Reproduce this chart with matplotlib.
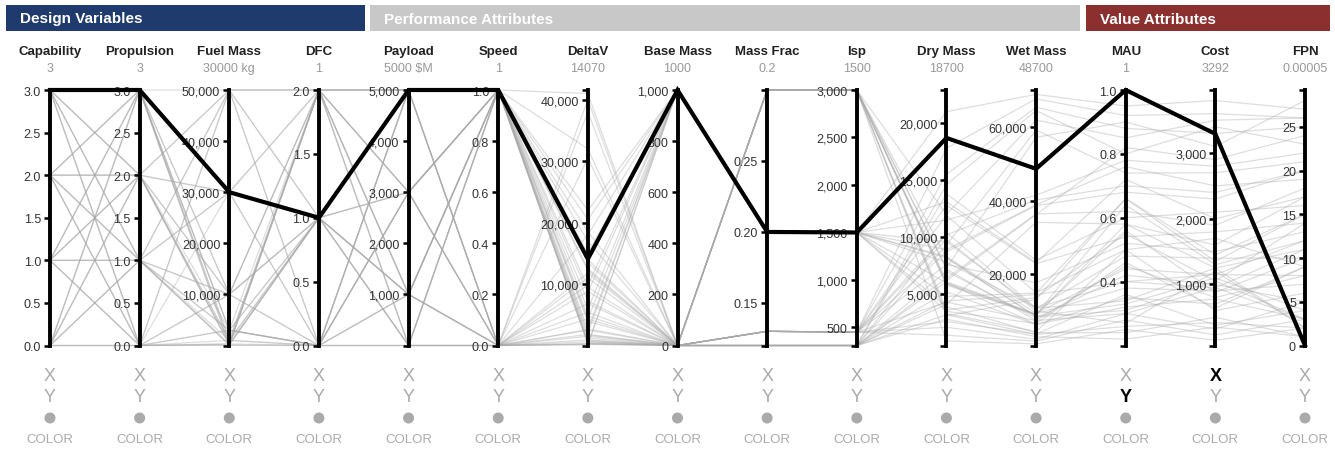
import matplotlib.pyplot as plt
import matplotlib.patches as mpatches
import numpy as np

plt.rcParams["font.family"] = ["Liberation Sans", "DejaVu Sans"]

# ---- axes / columns ----
dims = ["Capability", "Propulsion", "Fuel Mass", "DFC", "Payload", "Speed",
        "DeltaV", "Base Mass", "Mass Frac", "Isp", "Dry Mass", "Wet Mass",
        "MAU", "Cost", "FPN"]
selected_labels = ["3", "3", "30000 kg", "1", r"5000 \$M", "1", "14070", "1000",
                   "0.2", "1500", "18700", "48700", "1", "3292", "0.00005"]
selected = [3, 3, 30000, 1, 5000, 1, 14070, 1000, 0.2, 1500, 18700, 48700,
            1.0, 3292, 0.00005]

domains = [(0, 3), (0, 3), (0, 50000), (0, 2), (0, 5000), (0, 1), (0, 41570),
           (0, 1000), (0.12, 0.30), (310, 3000), (500, 22900), (500, 70200),
           (0.2, 1.0), (70, 3960), (0, 29.2)]
ticks = [
    [0, 0.5, 1, 1.5, 2, 2.5, 3],
    [0, 0.5, 1, 1.5, 2, 2.5, 3],
    [10000, 20000, 30000, 40000, 50000],
    [0, 0.5, 1, 1.5, 2],
    [1000, 2000, 3000, 4000, 5000],
    [0, 0.2, 0.4, 0.6, 0.8, 1.0],
    [10000, 20000, 30000, 40000],
    [0, 200, 400, 600, 800, 1000],
    [0.15, 0.20, 0.25],
    [500, 1000, 1500, 2000, 2500, 3000],
    [5000, 10000, 15000, 20000],
    [20000, 40000, 60000],
    [0.4, 0.6, 0.8, 1.0],
    [1000, 2000, 3000],
    [0, 5, 10, 15, 20, 25],
]
fmts = ["{:.1f}", "{:.1f}", "{:,.0f}", "{:.1f}", "{:,.0f}", "{:.1f}", "{:,.0f}",
        "{:,.0f}", "{:.2f}", "{:,.0f}", "{:,.0f}", "{:,.0f}", "{:.1f}",
        "{:,.0f}", "{:.0f}"]

# ---- tradespace designs (approximate) ----
capability = [0, 0, 0, 0, 1, 1, 1, 1, 2, 2, 2, 2, 3, 3, 3, 3,
              0, 0, 0, 0, 1, 1, 1, 1, 2, 2, 2, 2, 3, 3, 3, 3,
              0, 0, 0, 0, 1, 1, 1, 1, 2, 2, 2, 2, 3, 3, 3, 3]
propulsion = [0, 1, 2, 3, 0, 1, 2, 3, 0, 1, 2, 3, 0, 1, 2, 3,
              0, 1, 2, 3, 0, 1, 2, 3, 0, 1, 2, 3, 0, 1, 2, 3,
              0, 1, 2, 3, 0, 1, 2, 3, 0, 1, 2, 3, 0, 1, 2, 3]
fuel_mass = [30, 100, 1000, 3000, 10000, 300, 30000, 1000, 50000, 3000, 100, 30000, 1000, 30000, 3000, 50000,
             3000, 50000, 300, 10000, 300, 10000, 50000, 100, 100, 1000, 10000, 3000, 30000, 100, 1000, 3000,
             50000, 10000, 30000, 1000, 3000, 50000, 10000, 30000, 300, 30000, 50000, 10000, 10000, 3000, 300, 100]
dfc = [0, 1, 2, 0, 1, 2, 0, 1, 2, 0, 1, 2, 0, 1, 2, 0,
       1, 2, 0, 1, 2, 0, 1, 2, 0, 1, 2, 0, 1, 2, 0, 1,
       2, 0, 1, 2, 0, 1, 2, 0, 1, 2, 0, 1, 2, 0, 1, 2]
payload = [0, 1000, 3000, 5000, 1000, 0, 3000, 5000, 5000, 1000, 0, 3000, 0, 3000, 1000, 5000,
           3000, 5000, 1000, 0, 5000, 3000, 1000, 1000, 5000, 0, 5000, 0, 1000, 5000, 3000, 1000,
           1000, 5000, 0, 3000, 3000, 5000, 0, 1000, 3000, 1000, 3000, 5000, 0, 5000, 5000, 3000]
speed = [0, 1, 1, 0, 1, 0, 1, 1, 0, 1, 0, 0, 1, 1, 0, 1,
         1, 1, 1, 1, 0, 0, 0, 0, 1, 1, 1, 1, 0, 0, 1, 1,
         1, 0, 0, 0, 1, 1, 1, 1, 0, 0, 1, 0, 0, 1, 1, 0]
delta_v = [2500, 1200, 800, 4300, 32000, 1800, 9500, 2100, 40000, 3900, 300, 18000, 14000, 7200, 1500, 22000,
           18500, 12500, 350, 15000, 600, 6800, 11800, 100, 400, 1700, 4800, 8600, 38000, 200, 650, 5900,
           41000, 5400, 8800, 2600, 17000, 13500, 4300, 20500, 900, 11000, 12200, 9800, 30500, 2700, 200, 250]
base_mass = [0, 0, 0, 1000, 0, 0, 0, 1000, 0, 0, 0, 1000, 0, 0, 0, 1000,
             0, 0, 0, 1000, 0, 0, 0, 1000, 0, 0, 0, 1000, 0, 0, 0, 1000,
             0, 0, 0, 1000, 0, 0, 0, 1000, 0, 0, 0, 1000, 0, 0, 0, 1000]
mass_frac = [0.30, 0.13, 0.12, 0.20, 0.30, 0.13, 0.12, 0.20, 0.30, 0.13, 0.12, 0.20,
             0.30, 0.13, 0.12, 0.20, 0.30, 0.13, 0.12, 0.20, 0.30, 0.13, 0.12, 0.20,
             0.30, 0.13, 0.12, 0.20, 0.30, 0.13, 0.12, 0.20, 0.30, 0.13, 0.12, 0.20,
             0.30, 0.13, 0.12, 0.20, 0.30, 0.13, 0.12, 0.20, 0.30, 0.13, 0.12, 0.20]
isp = [3000, 450, 310, 1500, 3000, 450, 310, 1500, 3000, 450, 310, 1500,
       3000, 450, 310, 1500, 3000, 450, 310, 1500, 3000, 450, 310, 1500,
       3000, 450, 310, 1500, 3000, 450, 310, 1500, 3000, 450, 310, 1500,
       3000, 450, 310, 1500, 3000, 450, 310, 1500, 3000, 450, 310, 1500]
dry_mass = [900, 2100, 5200, 7800, 3600, 1400, 6400, 9600, 12000, 4300, 2800, 11500, 3300, 10200, 6100, 21000,
            5800, 15500, 3200, 4800, 8200, 7600, 9300, 3900, 7200, 2600, 13800, 3500, 6200, 9800, 7000, 6000,
            7300, 12800, 4100, 8300, 5900, 17800, 4400, 8900, 6000, 8700, 14600, 13100, 3100, 11900, 10400, 8200]
wet_mass = [930, 2200, 6200, 10800, 13600, 1700, 36400, 10600, 62000, 7300, 2900, 41500, 4300, 40200, 9100, 69000,
            8800, 65500, 3500, 14800, 8500, 17600, 59300, 4000, 7300, 3600, 23800, 6500, 36200, 9900, 8000, 9000,
            57300, 22800, 34100, 9300, 8900, 67800, 14400, 38900, 6300, 38700, 64600, 23100, 13100, 14900, 10700, 8300]
mau = [0.25, 0.30, 0.35, 0.40, 0.55, 0.28, 0.62, 0.48, 0.85, 0.45, 0.22, 0.78, 0.50, 0.70, 0.38, 0.95,
       0.58, 0.88, 0.26, 0.66, 0.33, 0.52, 0.74, 0.24, 0.30, 0.36, 0.60, 0.46, 0.82, 0.27, 0.42, 0.56,
       0.90, 0.54, 0.58, 0.44, 0.64, 0.92, 0.40, 0.76, 0.32, 0.68, 0.80, 0.72, 0.66, 0.50, 0.34, 0.31]
cost = [150, 320, 700, 1150, 1050, 230, 1900, 1400, 3500, 800, 350, 2800, 600, 2400, 900, 3800,
        1250, 3300, 420, 1350, 1100, 1500, 2700, 500, 950, 380, 2100, 640, 2900, 1200, 1000, 880,
        3100, 1800, 1600, 1150, 1300, 3600, 950, 2500, 780, 2300, 3400, 2000, 1450, 1700, 1250, 1050]
fpn = [2, 5, 9, 12, 14, 3, 18, 10, 26, 8, 1, 22, 6, 20, 7, 27,
       11, 25, 2, 15, 4, 13, 21, 1, 3, 4, 16, 9, 24, 2, 5, 10,
       28, 14, 17, 8, 12, 26, 11, 19, 3, 20, 23, 17, 15, 9, 2, 3]

columns = [capability, propulsion, fuel_mass, dfc, payload, speed, delta_v,
           base_mass, mass_frac, isp, dry_mass, wet_mass, mau, cost, fpn]

groups = [("Design Variables", 6, 365, "#1f3a6d"),
          ("Performance Attributes", 370, 1080, "#c8c8c8"),
          ("Value Attributes", 1086, 1330, "#8b2f2f")]
x_axis_dim, y_axis_dim = "Cost", "MAU"

# ---- layout (pixels) ----
W, H = 1335, 452
x_left, x_right = 50, 1305
y_top, y_bot = 91, 346.5
xs = np.linspace(x_left, x_right, len(dims))
plot_rect = [x_left / W, (H - y_bot) / H, (x_right - x_left) / W,
             (y_bot - y_top) / H]

fig = plt.figure(figsize=(W / 100, H / 100), dpi=100)

# overlay for headers and controls
ov = fig.add_axes([0, 0, 1, 1])
ov.set_zorder(1)
ov.set_xlim(0, W)
ov.set_ylim(H, 0)
ov.axis("off")

lows = np.array([d[0] for d in domains])
spans = np.array([d[1] - d[0] for d in domains])
data = np.array(columns, dtype=float).T

# gray background designs, beneath the axis spines
bg = fig.add_axes(plot_rect)
bg.set_zorder(1.5)
bg.patch.set_visible(False)
bg.set_xlim(0, len(dims) - 1)
bg.set_ylim(0, 1)
bg.axis("off")
for row in data:
    bg.plot(range(len(dims)), (row - lows) / spans, color="#a8a8a8",
            alpha=0.38, lw=0.9, clip_on=False)

# one thin axis per dimension
for i, name in enumerate(dims):
    lo, hi = domains[i]
    dax = fig.add_axes([xs[i] / W, (H - y_bot) / H, 1e-6, (y_bot - y_top) / H])
    dax.set_zorder(2)
    dax.patch.set_visible(False)
    for s in ["top", "right", "bottom"]:
        dax.spines[s].set_visible(False)
    dax.spines["left"].set_linewidth(2.8)
    dax.spines["left"].set_color("black")
    dax.set_xticks([])
    dax.set_ylim(lo, hi)
    dax.set_yticks(ticks[i])
    dax.set_yticklabels([fmts[i].format(t) for t in ticks[i]])
    dax.set_yticks([lo, hi], minor=True)
    dax.tick_params(axis="y", which="both", length=4.5, width=1.8,
                    colors="black", labelcolor="#333333", labelsize=9, pad=2)

# highlighted design on top
hl = fig.add_axes(plot_rect)
hl.set_zorder(3)
hl.patch.set_visible(False)
hl.set_xlim(0, len(dims) - 1)
hl.set_ylim(0, 1)
hl.axis("off")
hl.plot(range(len(dims)), (np.array(selected) - lows) / spans, color="black",
        lw=3.0, clip_on=False, solid_joinstyle="miter")

for label, x0, x1, col in groups:
    ov.add_patch(mpatches.Rectangle((x0, 6), x1 - x0, 26, color=col, lw=0))
    ov.text(x0 + 14, 19.5, label, color="white", fontsize=11,
            fontweight="bold", va="center", ha="left")

for i, name in enumerate(dims):
    ov.text(xs[i], 52, name, fontsize=9.5, fontweight="bold", ha="center",
            va="center", color="#222222")
    ov.text(xs[i], 69, selected_labels[i], fontsize=9, ha="center",
            va="center", color="#999999")
    is_x = name == x_axis_dim
    is_y = name == y_axis_dim
    ov.text(xs[i], 377, "X", fontsize=13, ha="center", va="center",
            color="black" if is_x else "#aaaaaa",
            fontweight="bold" if is_x else "normal")
    ov.text(xs[i], 398, "Y", fontsize=13, ha="center", va="center",
            color="black" if is_y else "#aaaaaa",
            fontweight="bold" if is_y else "normal")
    ov.add_patch(mpatches.Circle((xs[i], 419), 5.5, color="#aaaaaa", lw=0))
    ov.text(xs[i], 440, "COLOR", fontsize=9.5, ha="center", va="center",
            color="#aaaaaa")

fig.savefig("out.png", dpi=100)
